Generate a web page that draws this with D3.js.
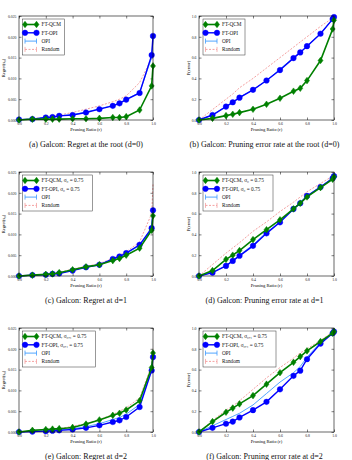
<!DOCTYPE html>
<html>
<head>
<meta charset="utf-8">
<title>Galcon pruning</title>
<script type="text/javascript" src="https://cdnjs.cloudflare.com/ajax/libs/d3/7.8.5/d3.min.js"></script>
<style>
	body { margin: 0; background: white; }
	text { font-family: "Liberation Serif", "DejaVu Serif", serif; }
</style>
</head>
<body>
<svg id="fig" width="352" height="460"></svg>
<script type="text/javascript">
	// pruning ratios (x)
	var ratios = [0, 0.1, 0.2, 0.25, 0.3, 0.4, 0.5, 0.6, 0.7, 0.75, 0.8, 0.9, 0.99, 1.0];
	var xTicks = [0, 0.2, 0.4, 0.6, 0.8, 1.0];
	var regretTicks = [0, 0.005, 0.01, 0.015, 0.02, 0.025];
	var errorTicks = [0, 0.2, 0.4, 0.6, 0.8, 1.0];

	// (a) regret at root
	var regretD0Qcm = [0.0000, 0.0002, 0.0002, 0.0002, 0.0002, 0.0003, 0.0003, 0.0004, 0.0006, 0.0006, 0.0008, 0.0024, 0.0082, 0.0130];
	var regretD0FtOpi = [0.0001, 0.0002, 0.0006, 0.0007, 0.0010, 0.0012, 0.0018, 0.0026, 0.0034, 0.0040, 0.0049, 0.0065, 0.0156, 0.0202];
	var regretD0Opi = [0.0001, 0.0002, 0.0006, 0.0007, 0.0010, 0.0013, 0.0019, 0.0027, 0.0035, 0.0041, 0.0050, 0.0066, 0.0150, 0.0195];
	var regretD0Rand = [0.0000, 0.0003, 0.0007, 0.0009, 0.0012, 0.0018, 0.0026, 0.0034, 0.0044, 0.0050, 0.0058, 0.0090, 0.0148, 0.0155];
	// (b) error rate at root
	var errD0Qcm = [0, 0.016, 0.042, 0.055, 0.071, 0.103, 0.151, 0.209, 0.277, 0.305, 0.379, 0.572, 0.875, 0.96];
	var errD0FtOpi = [0, 0.048, 0.129, 0.17, 0.215, 0.29, 0.38, 0.48, 0.595, 0.65, 0.71, 0.83, 0.97, 0.99];
	var errD0Opi = [0, 0.05, 0.13, 0.17, 0.22, 0.29, 0.38, 0.49, 0.60, 0.65, 0.71, 0.83, 0.97, 0.99];
	var errD0Rand = [0, 0.10, 0.20, 0.25, 0.31, 0.40, 0.50, 0.60, 0.70, 0.75, 0.80, 0.90, 0.98, 1.0];
	// (c) regret at d=1
	var regretD1Qcm = [0, 0.0002, 0.0004, 0.0005, 0.0008, 0.0015, 0.0022, 0.0027, 0.0037, 0.0042, 0.0050, 0.0067, 0.0110, 0.0145];
	var regretD1FtOpi = [0, 0.0002, 0.0003, 0.0005, 0.0006, 0.0013, 0.0021, 0.0027, 0.0041, 0.0047, 0.0055, 0.0075, 0.0115, 0.0158];
	var regretD1Opi = [0, 0.0002, 0.0004, 0.0005, 0.0007, 0.0014, 0.0022, 0.0028, 0.0040, 0.0046, 0.0054, 0.0073, 0.0112, 0.0155];
	var regretD1Rand = [0, 0.0002, 0.0004, 0.0006, 0.0008, 0.0017, 0.0023, 0.0030, 0.0042, 0.0050, 0.0058, 0.0082, 0.0150, 0.0220];
	// (d) error rate at d=1
	var errD1Qcm = [0, 0.052, 0.16, 0.20, 0.245, 0.35, 0.445, 0.54, 0.645, 0.70, 0.76, 0.85, 0.93, 0.955];
	var errD1FtOpi = [0, 0.032, 0.097, 0.145, 0.194, 0.29, 0.41, 0.516, 0.645, 0.70, 0.77, 0.855, 0.94, 0.96];
	var errD1Opi = [0, 0.035, 0.10, 0.15, 0.20, 0.30, 0.42, 0.52, 0.65, 0.71, 0.77, 0.86, 0.94, 0.96];
	var errD1Rand = [0, 0.11, 0.22, 0.27, 0.32, 0.43, 0.52, 0.62, 0.71, 0.76, 0.81, 0.89, 0.96, 0.97];
	// (e) regret at d=2
	var regretD2Qcm = [0, 0.0004, 0.0006, 0.0007, 0.0008, 0.0011, 0.0019, 0.0029, 0.0040, 0.0045, 0.0053, 0.0075, 0.0155, 0.0190];
	var regretD2FtOpi = [0, 0.0001, 0.0002, 0.0003, 0.0004, 0.0006, 0.0010, 0.0016, 0.0024, 0.0028, 0.0036, 0.0060, 0.0148, 0.0180];
	var regretD2Opi = [0, 0.0002, 0.0003, 0.0004, 0.0005, 0.0008, 0.0013, 0.0020, 0.0030, 0.0035, 0.0043, 0.0066, 0.0150, 0.0160];
	var regretD2Rand = [0, 0.0003, 0.0005, 0.0006, 0.0008, 0.0014, 0.0020, 0.0030, 0.0042, 0.0050, 0.0058, 0.0082, 0.0160, 0.0200];
	// (f) error rate at d=2
	var errD2Qcm = [0, 0.10, 0.19, 0.23, 0.27, 0.35, 0.46, 0.57, 0.67, 0.725, 0.78, 0.87, 0.95, 0.965];
	var errD2FtOpi = [0, 0.04, 0.08, 0.10, 0.14, 0.21, 0.29, 0.41, 0.54, 0.59, 0.70, 0.85, 0.95, 0.965];
	var errD2Opi = [0, 0.06, 0.12, 0.15, 0.18, 0.26, 0.37, 0.48, 0.57, 0.63, 0.72, 0.86, 0.95, 0.97];
	var errD2Rand = [0, 0.11, 0.21, 0.25, 0.30, 0.41, 0.52, 0.62, 0.71, 0.76, 0.80, 0.88, 0.96, 0.97];

	var captions = [
		"(a)  Galcon: Regret at the root (d=0)",
		"(b)  Galcon: Pruning error rate at the root (d=0)",
		"(c)  Galcon: Regret at d=1",
		"(d)  Galcon: Pruning error rate at d=1",
		"(e)  Galcon: Regret at d=2",
		"(f)  Galcon: Pruning error rate at d=2"
	];
	var legendSuffix = ["", "", ", σ\u2080 = 0.75", ", σ\u2080 = 0.75", ", σ\u2080,\u2081 = 0.75", ", σ\u2080,\u2081 = 0.75"];

	var green = "#008000", blue = "#0000ff", lightBlue = "#3d9bff", pink = "#f4a0a0";

	var svg = d3.select("#fig");

	var panels = [
		{series: [regretD0Qcm, regretD0FtOpi, regretD0Opi, regretD0Rand], regret: true, left: 19, top: 16},
		{series: [errD0Qcm, errD0FtOpi, errD0Opi, errD0Rand], regret: false, left: 199, top: 16},
		{series: [regretD1Qcm, regretD1FtOpi, regretD1Opi, regretD1Rand], regret: true, left: 19, top: 172},
		{series: [errD1Qcm, errD1FtOpi, errD1Opi, errD1Rand], regret: false, left: 199, top: 172},
		{series: [regretD2Qcm, regretD2FtOpi, regretD2Opi, regretD2Rand], regret: true, left: 19, top: 328},
		{series: [errD2Qcm, errD2FtOpi, errD2Opi, errD2Rand], regret: false, left: 199, top: 328}
	];

	function diamond(g, x, y, c) {
		g.append("path").attr("d", "M" + x + "," + (y - 3.3) + "L" + (x + 2.5) + "," + y + "L" + x + "," + (y + 3.3) + "L" + (x - 2.5) + "," + y + "Z")
			.attr("fill", c).attr("stroke", c).attr("stroke-width", 0.5);
	}
	function circle(g, x, y, c) {
		g.append("circle").attr("cx", x).attr("cy", y).attr("r", 2.8).attr("fill", c).attr("stroke", c).attr("stroke-width", 0.4);
	}

	panels.forEach(function(p, i) {
		var w = p.left == 19 ? 134 : 135;
		var h = 104;
		var g = svg.append("g").attr("transform", "translate(" + p.left + "," + p.top + ")");
		var x = d3.scaleLinear().domain([0, 1]).range([0, w]);
		var y = d3.scaleLinear().domain(p.regret ? [0, 0.025] : [0, 1]).range([h, 0]);
		var yTicks = p.regret ? regretTicks : errorTicks;
		var yFmt = p.regret ? d3.format(".3f") : d3.format(".1f");

		// axes (ticks pointing inwards like matplotlib classic)
		g.append("g").attr("transform", "translate(0," + h + ")")
			.call(d3.axisBottom(x).tickValues(xTicks).tickSizeInner(-2.5).tickSizeOuter(0).tickPadding(2.5).tickFormat(d3.format(".1f")));
		g.append("g").call(d3.axisTop(x).tickValues(xTicks).tickSizeInner(-2.5).tickSizeOuter(0).tickFormat(""));
		g.append("g")
			.call(d3.axisLeft(y).tickValues(yTicks).tickSizeInner(-2.5).tickSizeOuter(0).tickPadding(2.5).tickFormat(yFmt));
		g.append("g").attr("transform", "translate(" + w + ",0)")
			.call(d3.axisRight(y).tickValues(yTicks).tickSizeInner(-2.5).tickSizeOuter(0).tickFormat(""));
		g.selectAll(".domain").remove();
		g.selectAll(".tick line").attr("stroke", "#000").attr("stroke-width", 0.5);
		g.selectAll(".tick text").attr("font-size", 3.8).attr("font-family", "Liberation Serif").attr("fill", "#222");

		var line = d3.line().x(function(d, k) { return x(ratios[k]); }).y(function(d) { return y(d); });

		// Random (dashed, light red)
		g.append("path").datum(p.series[3]).attr("d", line).attr("fill", "none")
			.attr("stroke", pink).attr("stroke-width", 1).attr("stroke-dasharray", "2,1.5");
		// OPI (thin light blue)
		g.append("path").datum(p.series[2]).attr("d", line).attr("fill", "none")
			.attr("stroke", lightBlue).attr("stroke-width", 0.9);
		// FT-OPI
		g.append("path").datum(p.series[1]).attr("d", line).attr("fill", "none")
			.attr("stroke", blue).attr("stroke-width", 1.4);
		p.series[1].forEach(function(d, k) { circle(g, x(ratios[k]), y(d), blue); });
		// FT-QCM
		g.append("path").datum(p.series[0]).attr("d", line).attr("fill", "none")
			.attr("stroke", green).attr("stroke-width", 1.6);
		p.series[0].forEach(function(d, k) { diamond(g, x(ratios[k]), y(d), green); });

		// frame
		g.append("rect").attr("width", w).attr("height", h).attr("fill", "none").attr("stroke", "#000").attr("stroke-width", 0.6);

		// labels
		g.append("text").attr("x", w / 2).attr("y", h + 10.5).attr("text-anchor", "middle")
			.attr("font-size", 4.6).text("Pruning Ratio (r)");
		g.append("text").attr("transform", "translate(" + (p.regret ? -14 : -9) + "," + (h / 2) + ") rotate(-90)")
			.attr("text-anchor", "middle").attr("font-size", 4.6)
			.text(p.regret ? "Regret(s\u2080)" : "P(error)");

		// legend
		var names = ["FT-QCM" + legendSuffix[i], "FT-OPI" + legendSuffix[i], "OPI", "Random"];
		var lg = g.append("g").attr("transform", "translate(" + (p.regret ? 3.5 : 4) + ",3)");
		var lw = i < 2 ? 42 : (i < 4 ? 70 : 73);
		lg.append("rect").attr("width", lw).attr("height", 36).attr("fill", "white").attr("stroke", "#333").attr("stroke-width", 0.5);
		names.forEach(function(n, k) {
			var ly = 5.5 + k * 8.3;
			var c = [green, blue, lightBlue, pink][k];
			var sw = [1.6, 1.4, 0.9, 1][k];
			var seg = lg.append("line").attr("x1", 2.5).attr("x2", 14).attr("y1", ly).attr("y2", ly)
				.attr("stroke", c).attr("stroke-width", sw);
			if (k == 3) seg.attr("stroke-dasharray", "2,1.5");
			// error bar glyph
			[2.5, 14].forEach(function(cx) {
				lg.append("line").attr("x1", cx).attr("x2", cx).attr("y1", ly - 2.5).attr("y2", ly + 2.5)
					.attr("stroke", c).attr("stroke-width", 0.8);
			});
			if (k == 0) { diamond(lg, 2.5, ly, c); diamond(lg, 14, ly, c); }
			if (k == 1) { circle(lg, 2.5, ly, c); circle(lg, 14, ly, c); }
			lg.append("text").attr("x", 19).attr("y", ly + 1.8).attr("font-size", 5.3).attr("fill", "#111").text(n);
		});

		// caption
		svg.append("text").attr("x", p.left + w / 2 - (p.regret ? 0 : 2)).attr("y", p.top + h + 27)
			.attr("text-anchor", "middle").attr("font-size", 8).attr("fill", "#111").text(captions[i]);
	});
</script>
</body>
</html>
